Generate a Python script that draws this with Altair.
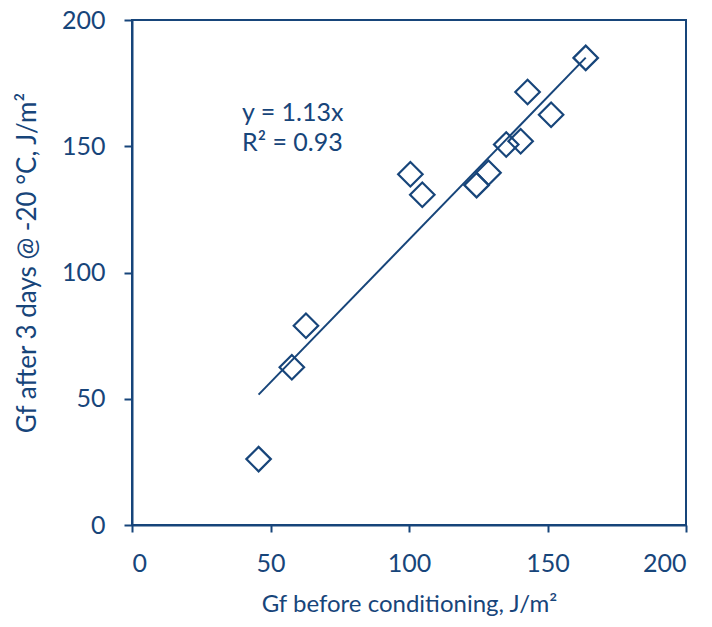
import altair as alt
import pandas as pd

# Data
gf_before = [45.7, 57.7, 62.8, 100.5, 104.8, 124.4, 128.7, 135.1, 140.3, 142.8, 151.3, 163.8]
gf_after = [26.1, 62.5, 78.9, 138.9, 130.8, 134.6, 139.5, 150.7, 152.0, 171.5, 162.5, 185.0]
slope = 1.13
eq_lines = ["y = 1.13x", "R\u00b2 = 0.93"]
eq_x = [39.7, 39.7]
eq_y = [163.2, 151.3]
axis_ticks = [0, 50, 100, 150, 200]

COLOR = "#17457A"
FONT = "Lato"
W, H = 554, 505

pts = pd.DataFrame({"x": gf_before, "y": gf_after})
x_lo, x_hi = min(gf_before), max(gf_before)
trend = pd.DataFrame({"x": [x_lo, x_hi], "y": [slope * x_lo, slope * x_hi]})
eq = pd.DataFrame({"x": eq_x, "y": eq_y, "t": eq_lines})

xscale = alt.Scale(domain=[0, 200], nice=False)
yscale = alt.Scale(domain=[0, 200], nice=False)

xaxis = alt.Axis(values=axis_ticks, title="Gf before conditioning, J/m\u00b2", grid=False,
                 domainColor=COLOR, domainWidth=2, tickColor=COLOR, tickWidth=2, tickSize=7,
                 labelColor=COLOR, labelFont=FONT, labelFontSize=25, labelPadding=19,
                 titleColor=COLOR, titleFont=FONT, titleFontSize=24, titleFontWeight="normal",
                 titleX=W / 2, titleY=79, titleBaseline="middle", titleAlign="center")
yaxis = alt.Axis(values=axis_ticks, title="Gf after 3 days @ -20 \u00b0C, J/m\u00b2", grid=False,
                 domainColor=COLOR, domainWidth=2, tickColor=COLOR, tickWidth=2, tickSize=8,
                 labelColor=COLOR, labelFont=FONT, labelFontSize=25, labelPadding=19,
                 titleColor=COLOR, titleFont=FONT, titleFontSize=26, titleFontWeight="normal",
                 titleX=-105, titleY=H / 2 - 10, titleAngle=-90, titleBaseline="middle",
                 titleAlign="center")

points = alt.Chart(pts).mark_point(shape="diamond", size=600, filled=False, strokeWidth=2.2,
                                   color=COLOR, opacity=1).encode(
    x=alt.X("x:Q", scale=xscale, axis=xaxis),
    y=alt.Y("y:Q", scale=yscale, axis=yaxis),
)

line = alt.Chart(trend).mark_line(color=COLOR, strokeWidth=2).encode(
    x=alt.X("x:Q", scale=xscale),
    y=alt.Y("y:Q", scale=yscale),
)

text = alt.Chart(eq).mark_text(align="left", baseline="middle", font=FONT, fontSize=25,
                               color=COLOR).encode(
    x=alt.X("x:Q", scale=xscale),
    y=alt.Y("y:Q", scale=yscale),
    text="t:N",
)

chart = alt.layer(line, points, text).properties(
    width=W, height=H,
    autosize=alt.AutoSizeParams(type="none"),
    padding={"left": 132, "top": 20, "right": 26, "bottom": 102},
    background="white",
).configure_view(stroke=COLOR, strokeWidth=2)

chart.save("out.html", embed_options={"renderer": "svg", "actions": False})
